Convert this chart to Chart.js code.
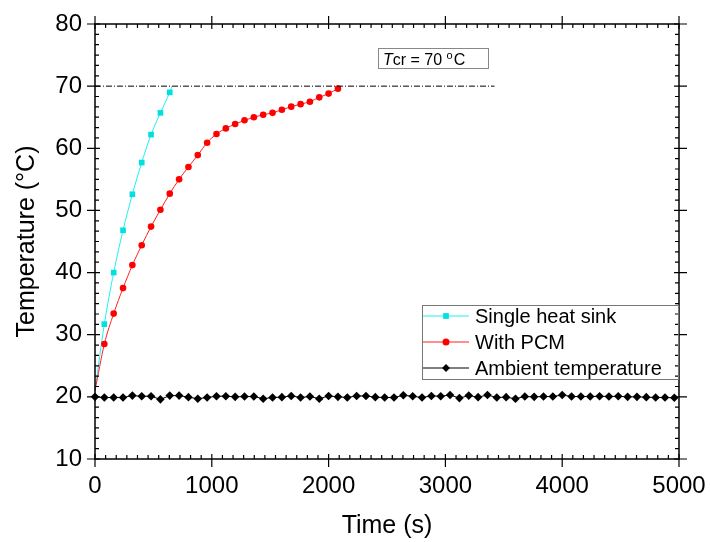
<!DOCTYPE html>
<html>
<head>
<meta charset="utf-8">
<script src="https://cdn.jsdelivr.net/npm/chart.js@4.4.0/dist/chart.umd.min.js"></script>
<style>
    html, body { margin: 0; padding: 0; background: #fff; }
</style>
</head>
<body>
<canvas id="tempChart" width="710" height="542"></canvas>
<script>
// Single heat sink (time s, temperature °C)
var sinkTime = [0, 80, 160, 240, 320, 400, 480, 560, 640, 660];
var sinkTemp = [21, 31.7, 40.0, 46.8, 52.6, 57.7, 62.2, 65.7, 69.0, 70];

// With PCM
var pcmTime = [0, 80, 160, 240, 320, 400, 480, 560, 640, 720, 800, 880, 960, 1040,
    1120, 1200, 1280, 1360, 1440, 1520, 1600, 1680, 1760, 1840, 1920, 2000, 2080];
var pcmTemp = [21, 28.5, 33.4, 37.5, 41.2, 44.4, 47.4, 50.1, 52.7, 55.0, 57.0, 58.9, 60.9, 62.3,
    63.2, 63.9, 64.5, 65.0, 65.4, 65.7, 66.2, 66.7, 67.1, 67.5, 68.2, 68.8, 69.6];

// Ambient temperature
var ambTime = [0, 80, 160, 240, 320, 400, 480, 560, 640, 720, 800, 880, 960, 1040, 1120, 1200,
    1280, 1360, 1440, 1520, 1600, 1680, 1760, 1840, 1920, 2000, 2080, 2160, 2240, 2320, 2400,
    2480, 2560, 2640, 2720, 2800, 2880, 2960, 3040, 3120, 3200, 3280, 3360, 3440, 3520, 3600,
    3680, 3760, 3840, 3920, 4000, 4080, 4160, 4240, 4320, 4400, 4480, 4560, 4640, 4720, 4800,
    4880, 4960];
var ambTemp = [20.0, 19.9, 19.9, 19.9, 20.2, 20.1, 20.1, 19.6, 20.2, 20.2, 19.95, 19.7, 19.9,
    20.1, 20.1, 20.0, 20.05, 20.05, 19.7, 19.9, 19.95, 20.15, 19.9, 20.05, 19.7, 20.15, 20.0,
    19.9, 20.15, 20.15, 19.95, 19.9, 19.9, 20.25, 20.1, 19.9, 20.15, 20.1, 20.3, 19.8, 20.2,
    19.95, 20.3, 19.9, 19.95, 19.7, 20.05, 20.0, 20.05, 20.05, 20.3, 20.05, 20.05, 20.05,
    20.1, 20.05, 20.1, 20.0, 20.0, 19.95, 19.9, 19.9, 19.85];

// Critical temperature line
var critTime = [0, 3420];
var critTemp = [70, 70];

var xTicks = [0, 1000, 2000, 3000, 4000, 5000];
var yTicks = [10, 20, 30, 40, 50, 60, 70, 80];

var fontName = "'Liberation Sans', Arial, sans-serif";

var toPoints = function (xs, ys) {
    return xs.map(function (x, i) {
        return { x: x, y: ys[i] };
    });
};

var drawMarker = function (ctx, style, x, y, r, color) {
    ctx.fillStyle = color;
    ctx.beginPath();
    if (style === "rect") {
        ctx.rect(x - r * 0.72, y - r * 0.72, r * 1.44, r * 1.44);
    } else if (style === "rectRot") {
        ctx.moveTo(x, y - r);
        ctx.lineTo(x + r, y);
        ctx.lineTo(x, y + r);
        ctx.lineTo(x - r, y);
        ctx.closePath();
    } else {
        ctx.arc(x, y, r, 0, Math.PI * 2);
    }
    ctx.fill();
};

// Axis frame with Origin style ticks on all four sides
var frameTicks = {
    id: "frameTicks",
    afterDatasetsDraw: function (chart) {
        var ctx = chart.ctx;
        var a = chart.chartArea;
        var xs = chart.scales.x;
        var ys = chart.scales.y;
        ctx.save();
        ctx.strokeStyle = "#000";
        ctx.lineWidth = 1.5;
        ctx.strokeRect(a.left, a.top, a.right - a.left, a.bottom - a.top);

        ctx.lineWidth = 1.2;
        ctx.beginPath();
        xTicks.forEach(function (v, i) {
            var px = xs.getPixelForValue(v);
            ctx.moveTo(px, a.bottom + 8);
            ctx.lineTo(px, a.bottom - 5);
            ctx.moveTo(px, a.top - 8);
            ctx.lineTo(px, a.top + 5);
            if (i < xTicks.length - 1) {
                for (var k = 1; k < 11; k++) {
                    var m = xs.getPixelForValue(v + (k * 1000) / 11);
                    ctx.moveTo(m, a.bottom);
                    ctx.lineTo(m, a.bottom - 4);
                    ctx.moveTo(m, a.top);
                    ctx.lineTo(m, a.top + 4);
                }
            }
        });
        yTicks.forEach(function (v, i) {
            var py = ys.getPixelForValue(v);
            ctx.moveTo(a.left - 8, py);
            ctx.lineTo(a.left + 5, py);
            ctx.moveTo(a.right + 8, py);
            ctx.lineTo(a.right - 5, py);
            if (i < yTicks.length - 1) {
                for (var k = 1; k < 6; k++) {
                    var m = ys.getPixelForValue(v + (k * 10) / 6);
                    ctx.moveTo(a.left, m);
                    ctx.lineTo(a.left + 4, m);
                    ctx.moveTo(a.right, m);
                    ctx.lineTo(a.right - 4, m);
                }
            }
        });
        ctx.stroke();
        ctx.restore();
    },
    afterDraw: function (chart) {
        var ctx = chart.ctx;
        ctx.save();

        // Tcr label box
        ctx.strokeStyle = "#888";
        ctx.lineWidth = 1;
        ctx.strokeRect(378.5, 48.5, 110, 20);
        ctx.fillStyle = "#000";
        ctx.textBaseline = "alphabetic";
        ctx.textAlign = "left";
        var tx = 383;
        ctx.font = "italic 16px " + fontName;
        ctx.fillText("T", tx, 65);
        tx += ctx.measureText("T").width;
        ctx.font = "16px " + fontName;
        ctx.fillText("cr = 70 ", tx, 65);
        tx += ctx.measureText("cr = 70 ").width;
        ctx.font = "11px " + fontName;
        ctx.fillText("o", tx, 59);
        tx += ctx.measureText("o").width + 1;
        ctx.font = "16px " + fontName;
        ctx.fillText("C", tx, 65);

        // Legend
        ctx.strokeStyle = "#777";
        ctx.strokeRect(422.5, 305.5, 256, 74);
        ctx.font = "20px " + fontName;
        ctx.textBaseline = "middle";
        chart.data.datasets.forEach(function (ds) {
            if (!ds.inLegend) return;
            var ry = 316 + ds.legendRow * 26;
            ctx.strokeStyle = ds.borderColor;
            ctx.lineWidth = 1;
            ctx.beginPath();
            ctx.moveTo(423, ry);
            ctx.lineTo(469, ry);
            ctx.stroke();
            drawMarker(ctx, ds.pointStyle, 446, ry, ds.legendRadius, ds.pointBackgroundColor);
            ctx.fillStyle = "#000";
            ctx.fillText(ds.label, 475, ry + 1);
        });
        ctx.restore();
    },
};

var ctx = document.getElementById("tempChart").getContext("2d");

new Chart(ctx, {
    type: "line",
    data: {
        datasets: [
            {
                label: "Tcr",
                data: toPoints(critTime, critTemp),
                borderColor: "#000",
                borderWidth: 1,
                borderDash: [6, 2, 1, 2],
                pointRadius: 0,
                inLegend: false,
            },
            {
                label: "Ambient temperature",
                data: toPoints(ambTime, ambTemp),
                borderColor: "#000",
                borderWidth: 1,
                pointStyle: "rectRot",
                pointRadius: 4.3,
                pointBackgroundColor: "#000",
                pointBorderWidth: 0,
                clip: 10,
                inLegend: true,
                legendRow: 2,
                legendRadius: 4,
            },
            {
                label: "With PCM",
                data: toPoints(pcmTime, pcmTemp),
                borderColor: "#FF2020",
                borderWidth: 1,
                cubicInterpolationMode: "monotone",
                pointStyle: "circle",
                pointRadius: function (c) {
                    return c.dataIndex === 0 ? 0 : 3.3;
                },
                pointBackgroundColor: "#FF0000",
                pointBorderWidth: 0,
                clip: 10,
                inLegend: true,
                legendRow: 1,
                legendRadius: 3.5,
            },
            {
                label: "Single heat sink",
                data: toPoints(sinkTime, sinkTemp),
                borderColor: "#20F0F0",
                borderWidth: 1,
                cubicInterpolationMode: "monotone",
                pointStyle: "rect",
                pointRadius: function (c) {
                    return c.dataIndex === 0 || c.dataIndex === sinkTime.length - 1 ? 0 : 4;
                },
                pointBackgroundColor: "#00E0E0",
                pointBorderWidth: 0,
                clip: 10,
                inLegend: true,
                legendRow: 0,
                legendRadius: 4,
            },
        ],
    },
    options: {
        responsive: false,
        animation: false,
        devicePixelRatio: 1,
        layout: {
            padding: { left: 0, top: 24, right: 31, bottom: 0 },
        },
        plugins: {
            legend: { display: false },
            tooltip: { enabled: false },
        },
        scales: {
            x: {
                type: "linear",
                min: 0,
                max: 5000,
                grid: { display: false, drawTicks: false },
                border: { display: false },
                ticks: {
                    stepSize: 1000,
                    maxRotation: 0,
                    padding: 13,
                    color: "#000",
                    font: { family: fontName, size: 24 },
                    callback: function (value) {
                        return String(value);
                    },
                },
                title: {
                    display: true,
                    text: "Time (s)",
                    color: "#000",
                    font: { family: fontName, size: 25 },
                    padding: { top: 0, bottom: 1 },
                },
                afterFit: function (scale) {
                    scale.height = 83;
                    scale.paddingLeft = 0;
                    scale.paddingRight = 0;
                },
            },
            y: {
                type: "linear",
                min: 10,
                max: 80,
                grid: { display: false, drawTicks: false },
                border: { display: false },
                ticks: {
                    stepSize: 10,
                    padding: 13,
                    color: "#000",
                    font: { family: fontName, size: 24 },
                },
                title: {
                    display: true,
                    text: "Temperature (°C)",
                    color: "#000",
                    font: { family: fontName, size: 25 },
                    padding: { top: 12, bottom: 0 },
                },
                afterFit: function (scale) {
                    scale.width = 95;
                    scale.paddingTop = 0;
                    scale.paddingBottom = 0;
                },
            },
        },
    },
    plugins: [frameTicks],
});
</script>
</body>
</html>
